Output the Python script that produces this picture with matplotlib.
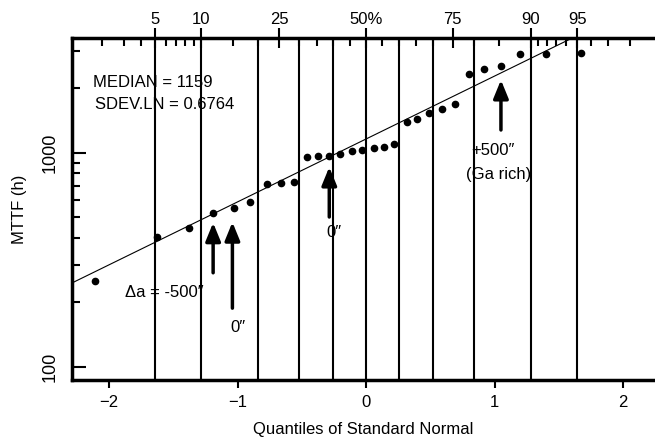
import numpy as np
import matplotlib
matplotlib.use("Agg")
import matplotlib.pyplot as plt
from matplotlib.ticker import FixedLocator, NullFormatter
from statistics import NormalDist

plt.rcParams['font.family'] = ['Liberation Sans', 'DejaVu Sans']

# normal quantiles (x) and MTTF in hours (y)
quantile = [-2.11, -1.63, -1.38, -1.19, -1.03, -0.90, -0.77, -0.66, -0.56,
            -0.46, -0.37, -0.29, -0.20, -0.11, -0.03, 0.06, 0.14, 0.22,
            0.32, 0.40, 0.49, 0.59, 0.69, 0.80, 0.92, 1.05, 1.20, 1.40, 1.67]
mttf = [252, 402, 443, 521, 553, 590, 712, 726, 730,
        955, 967, 967, 984, 1021, 1034, 1049, 1067, 1102,
        1396, 1432, 1528, 1600, 1694, 2333, 2473, 2550, 2884, 2884, 2911]

MEDIAN = 1159
SDEVLN = 0.6764

grid_pct = [5, 10, 20, 30, 40, 50, 60, 70, 80, 90, 95]
top_major_pct = [5, 10, 25, 50, 75, 90, 95]
top_major_lbl = ['5', '10', '25', '50%', '75', '90', '95']
top_minor_pct = [2, 3, 4, 6, 7, 8, 9, 15, 20, 30, 35, 40, 45, 55, 60, 65,
                 70, 80, 85, 91, 92, 93, 94, 96, 97, 98]

# arrows: (x, tip y, tail y)
arrows = [(-1.19, 471, 275), (-1.04, 474, 188), (-0.286, 858, 501), (1.05, 2187, 1277)]

nd = NormalDist()
def z(p):
    return nd.inv_cdf(p / 100.0)

fig = plt.figure(figsize=(6.55, 4.41), dpi=100)
ax = fig.add_axes([0.110, 0.138, 0.890, 0.776])

xlim = (-2.288, 2.249)
ylim = (86.7, 3436)

for p in grid_pct:
    ax.axvline(z(p), color='black', linewidth=1.5, zorder=1)

xx = np.array(xlim)
ax.plot(xx, MEDIAN * np.exp(SDEVLN * xx), color='black', linewidth=0.8, zorder=2)
ax.plot(quantile, mttf, 'o', color='black', markersize=4.5, zorder=3)

for x, tip, tail in arrows:
    ax.annotate('', xy=(x, tip), xytext=(x, tail),
                arrowprops=dict(arrowstyle='-|>,head_length=1.1,head_width=0.45',
                                color='black', linewidth=2.5, shrinkA=0, shrinkB=0))

fs = 12
ax.text(-2.125, 2118, 'MEDIAN = 1159', fontsize=fs, ha='left', va='center')
ax.text(-2.11, 1671, 'SDEV.LN = 0.6764', fontsize=fs, ha='left', va='center')
ax.text(-1.875, 223, '\u0394a = -500\u2033', fontsize=fs, ha='left', va='center')
ax.text(-1.00, 153, '0\u2033', fontsize=fs, ha='center', va='center')
ax.text(-0.25, 426, '0\u2033', fontsize=fs, ha='center', va='center')
ax.text(0.99, 1029, '+500\u2033', fontsize=fs, ha='center', va='center')
ax.text(1.03, 787, '(Ga rich)', fontsize=fs, ha='center', va='center')

ax.set_yscale('log')
ax.set_xlim(xlim)
ax.set_ylim(ylim)
ax.set_xticks([-2, -1, 0, 1, 2])
ax.set_yticks([100, 1000])
ax.set_yticklabels(['100', '1000'], rotation=90, va='center')
ax.yaxis.set_minor_locator(FixedLocator([200, 300, 400, 500, 600, 700, 800, 900, 2000, 3000]))
ax.yaxis.set_minor_formatter(NullFormatter())
ax.tick_params(axis='x', direction='out', length=6, width=1.5, labelsize=fs, pad=5)
ax.tick_params(axis='y', which='major', direction='in', length=10, width=1.5, labelsize=13, pad=10)
ax.tick_params(axis='y', which='minor', direction='in', length=6, width=1.5)
ax.spines['right'].set_visible(False)
for s in ['left', 'bottom', 'top']:
    ax.spines[s].set_linewidth(2.5)

top = ax.twiny()
top.set_xlim(xlim)
top.set_xticks([z(p) for p in top_major_pct])
top.set_xticklabels(top_major_lbl)
top.xaxis.set_minor_locator(FixedLocator([z(p) for p in top_minor_pct]))
top.tick_params(axis='x', which='major', direction='inout', length=14, width=1.5, labelsize=fs, pad=1)
top.tick_params(axis='x', which='minor', direction='in', length=6, width=1.5)
for s in top.spines.values():
    s.set_visible(False)

ax.set_xlabel('Quantiles of Standard Normal', fontsize=fs, labelpad=8)
ax.set_ylabel('MTTF (h)', fontsize=fs, labelpad=10)

fig.savefig('out.png', dpi=100)
